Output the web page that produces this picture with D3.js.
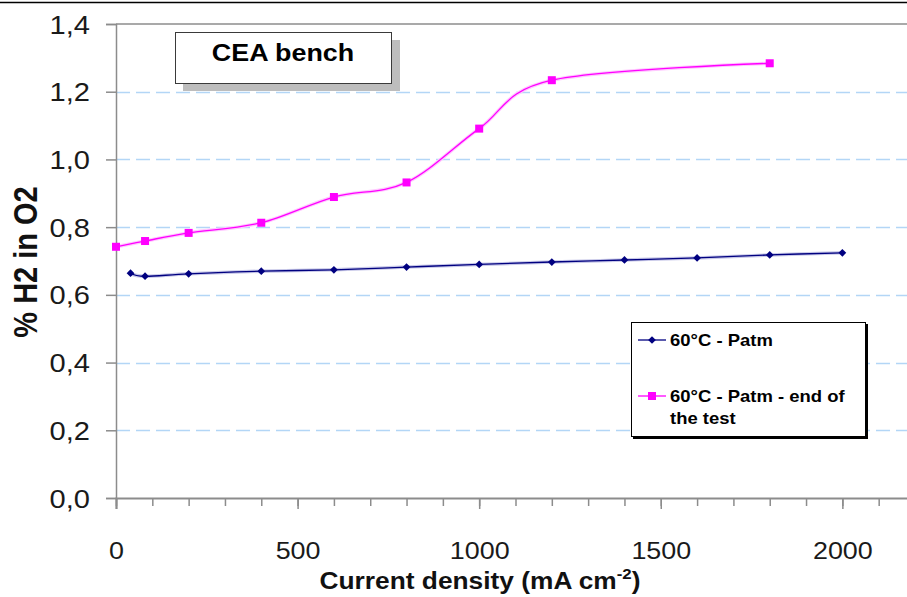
<!DOCTYPE html>
<html>
<head>
<meta charset="utf-8">
<script src="https://cdn.jsdelivr.net/npm/d3@7"></script>
<style>
  html, body { margin: 0; padding: 0; background: #fff; }
  svg { display: block; }
  text { font-family: "Liberation Sans", Arial, sans-serif; }
</style>
</head>
<body>
<svg id="chart" width="907" height="597"></svg>
<script>
// Current density (mA cm-2) and measured H2 content in O2 (%)
const baseX = [40, 80, 200, 400, 600, 800, 1000, 1200, 1400, 1600, 1800, 2000];
const baseY = [0.664, 0.655, 0.662, 0.670, 0.674, 0.682, 0.690, 0.697, 0.703, 0.709, 0.718, 0.724];
const endX = [0, 80, 200, 400, 600, 800, 1000, 1200, 1800];
const endY = [0.742, 0.759, 0.783, 0.813, 0.889, 0.932, 1.091, 1.234, 1.284];

const seriesNames = ["60°C - Patm", "60°C - Patm - end of", "the test"];
const yTicks = [0, 0.2, 0.4, 0.6, 0.8, 1.0, 1.2, 1.4];
const xTicks = [0, 500, 1000, 1500, 2000];
const xMinorTicks = d3.range(0, 2201, 100);
const chartTitle = "CEA bench";

const SX = 1.12; // horizontal text stretch

const svg = d3.select("#chart");
const x = d3.scaleLinear().domain([0, 2200]).range([116, 915]);
const y = d3.scaleLinear().domain([0, 1.4]).range([498, 24]);

const comma = v => d3.format(".1f")(v).replace(".", ",");

// page rule along the top
svg.append("line").attr("x1", 0).attr("x2", 907).attr("y1", 2.5).attr("y2", 2.5)
  .attr("stroke", "#000").attr("stroke-width", 1.5);

// horizontal gridlines
svg.append("g").selectAll("line").data(yTicks.filter(v => v > 0 && v < 1.4)).join("line")
  .attr("x1", x(0)).attr("x2", 907)
  .attr("y1", d => Math.round(y(d)) + 0.5).attr("y2", d => Math.round(y(d)) + 0.5)
  .attr("stroke", "#b3d6f6").attr("stroke-width", 1.6)
  .attr("stroke-dasharray", "14,6");

// plot area top border
svg.append("line").attr("x1", x(0)).attr("x2", 907).attr("y1", y(1.4)).attr("y2", y(1.4))
  .attr("stroke", "#8c8c8c").attr("stroke-width", 1.5);

// y axis
const yAxis = svg.append("g").attr("transform", `translate(${x(0)},0)`)
  .call(d3.axisLeft(y).tickValues(yTicks).tickFormat(comma).tickSize(10).tickPadding(0));
yAxis.select(".domain").attr("stroke", "#8c8c8c").attr("stroke-width", 1.5);
yAxis.selectAll(".tick line").attr("stroke", "#8c8c8c").attr("stroke-width", 1.5);
yAxis.selectAll(".tick text")
  .attr("x", 0).attr("dy", null)
  .attr("transform", "translate(-26,9) scale(" + SX + ",1)")
  .attr("font-size", 26).attr("fill", "#1a1a1a")
  .attr("font-family", "Liberation Sans, Arial, sans-serif");

// x axis: minor ticks, then major ticks with labels
const xMinor = svg.append("g").attr("transform", `translate(0,${y(0)})`)
  .call(d3.axisBottom(x).tickValues(xMinorTicks).tickFormat("").tickSize(8));
xMinor.select(".domain").remove();
xMinor.selectAll(".tick line").attr("stroke", "#8c8c8c").attr("stroke-width", 1.5);

const xAxis = svg.append("g").attr("transform", `translate(0,${y(0)})`)
  .call(d3.axisBottom(x).tickValues(xTicks).tickFormat(d3.format("d")).tickSize(11).tickPadding(0));
xAxis.select(".domain").attr("stroke", "#8c8c8c").attr("stroke-width", 2);
xAxis.selectAll(".tick line").attr("stroke", "#8c8c8c").attr("stroke-width", 1.5);
xAxis.selectAll(".tick text")
  .attr("y", 0).attr("dy", null)
  .attr("transform", "translate(0,61) scale(" + SX + ",1)")
  .attr("font-size", 24).attr("fill", "#1a1a1a")
  .attr("font-family", "Liberation Sans, Arial, sans-serif");

// axis titles
const xTitle = svg.append("text")
  .attr("transform", `translate(480,589) scale(${SX},1)`)
  .attr("text-anchor", "middle").attr("font-size", 23.5).attr("font-weight", "bold").attr("fill", "#111");
xTitle.append("tspan").text("Current density (mA cm");
xTitle.append("tspan").attr("font-size", 15).attr("dy", -10).text("-2");
xTitle.append("tspan").attr("dy", 10).text(")");

svg.append("text")
  .attr("transform", `translate(37,262) scale(${SX},1) rotate(-90)`)
  .attr("text-anchor", "middle").attr("font-size", 29).attr("font-weight", "bold").attr("fill", "#111")
  .text("% H2 in O2");

// smoothed series lines
const line = d3.line().x(d => x(d[0])).y(d => y(d[1])).curve(d3.curveCardinal.tension(0));
const basePts = baseX.map((v, i) => [v, baseY[i]]);
const endPts = endX.map((v, i) => [v, endY[i]]);

svg.append("path").datum(basePts).attr("d", line)
  .attr("fill", "none").attr("stroke", "#c8c8e8").attr("stroke-width", 3.5);
svg.append("path").datum(basePts).attr("d", line)
  .attr("fill", "none").attr("stroke", "#000080").attr("stroke-width", 1.3);
svg.append("path").datum(endPts).attr("d", line)
  .attr("fill", "none").attr("stroke", "#ffc8ff").attr("stroke-width", 3.5);
svg.append("path").datum(endPts).attr("d", line)
  .attr("fill", "none").attr("stroke", "#ff00ff").attr("stroke-width", 1.3);

// markers
const diamond = d3.symbol().type(d3.symbolSquare).size(30);
svg.append("g").selectAll("path").data(basePts).join("path")
  .attr("d", diamond)
  .attr("transform", d => `translate(${x(d[0])},${y(d[1])}) rotate(45)`)
  .attr("fill", "#000080");
svg.append("g").selectAll("rect").data(endPts).join("rect")
  .attr("x", d => x(d[0]) - 4).attr("y", d => y(d[1]) - 4)
  .attr("width", 8).attr("height", 8).attr("fill", "#ff00ff");

// title box with shadow
svg.append("rect").attr("x", 183).attr("y", 40).attr("width", 217).attr("height", 51).attr("fill", "#bdbdbd");
svg.append("rect").attr("x", 175.5).attr("y", 32.5).attr("width", 216).attr("height", 51)
  .attr("fill", "#fff").attr("stroke", "#3a3a3a").attr("stroke-width", 1);
svg.append("text")
  .attr("transform", `translate(283,61) scale(${SX},1)`)
  .attr("text-anchor", "middle").attr("font-size", 24).attr("font-weight", "bold").attr("fill", "#000")
  .text(chartTitle);

// legend
const lg = svg.append("g");
lg.append("rect").attr("x", 633).attr("y", 324).attr("width", 235).attr("height", 115).attr("fill", "#000");
lg.append("rect").attr("x", 631.5).attr("y", 322.5).attr("width", 234).attr("height", 114)
  .attr("fill", "#fff").attr("stroke", "#000").attr("stroke-width", 1);

lg.append("line").attr("x1", 638).attr("x2", 666).attr("y1", 340).attr("y2", 340)
  .attr("stroke", "#000080").attr("stroke-width", 1.3);
lg.append("path").attr("d", diamond).attr("transform", "translate(652,340) rotate(45)").attr("fill", "#000080");
lg.append("line").attr("x1", 638).attr("x2", 666).attr("y1", 396).attr("y2", 396)
  .attr("stroke", "#ff00ff").attr("stroke-width", 1.3);
lg.append("rect").attr("x", 648).attr("y", 392).attr("width", 8).attr("height", 8).attr("fill", "#ff00ff");

[[seriesNames[0], 346], [seriesNames[1], 402], [seriesNames[2], 424]].forEach(([t, by]) => {
  lg.append("text")
    .attr("transform", `translate(670,${by}) scale(${SX},1)`)
    .attr("font-size", 16.5).attr("font-weight", "bold").attr("fill", "#000")
    .text(t);
});
</script>
</body>
</html>
